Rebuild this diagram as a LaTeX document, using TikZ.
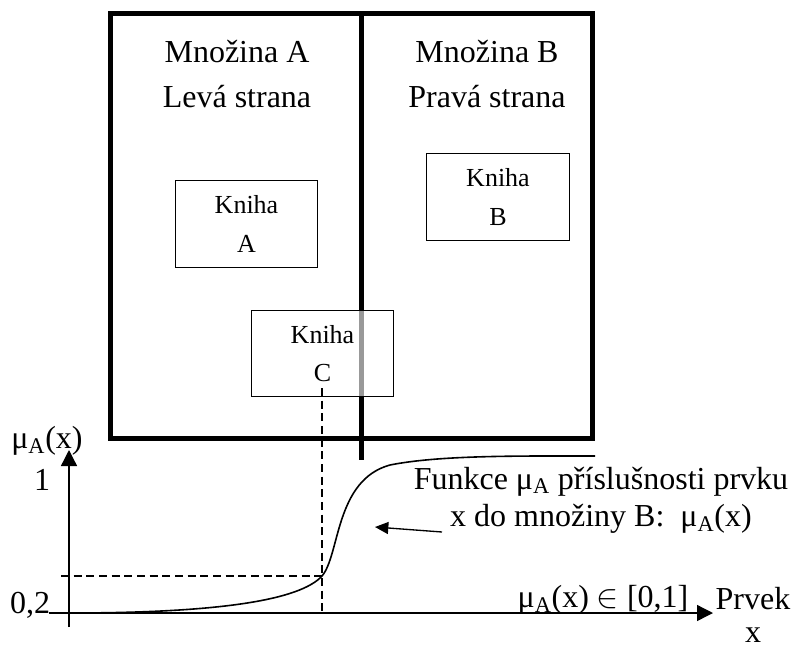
\documentclass[tikz,border=0pt]{standalone}
\usepackage{fontspec}
\setmainfont{Liberation Serif}
\usetikzlibrary{positioning,arrows.meta}

\tikzset{
	ramec/.style={line width=3.75pt},
	kniha/.style={draw,line width=0.9pt,minimum width=107pt,minimum height=65pt,inner sep=0pt,align=center,font=\fontsize{19.5}{29}\selectfont},
	nadpis/.style={align=center,font=\fontsize{24}{34}\selectfont},
	popis/.style={align=center,font=\fontsize{24}{28}\selectfont},
	osa/.style={line width=1pt,-{Triangle[length=12pt,width=12pt]}},
	sipka/.style={line width=1pt,-{Triangle[length=10pt,width=9pt]}},
	carky/.style={line width=0.9pt,dash pattern=on 6pt off 3.5pt}
}

\begin{document}
\begin{tikzpicture}[x=0.75pt,y=-0.75pt]
		\useasboundingbox (0,0) rectangle (795,650);
		\draw[ramec] (110,13) rectangle (592,438);
		\draw[ramec] (361,13) -- (361,460);
		\node[nadpis] (mnozA) at (237,74) {Množina A\\Levá strana};
		\node[nadpis] (mnozB) at (487,74) {Množina B\\Pravá strana};
		\node[kniha] (knihaA) at (246.5,224) {Kniha\\A};
		\node[kniha] (knihaB) at (498,197) {Kniha\\B};
		\node[kniha,fill=white,fill opacity=0.6,text opacity=1] (knihaC) at (322.5,353.5) {Kniha\\C};
		\coordinate (O) at (69,613);
		\coordinate (yz) at (69,627);
		\coordinate (yk) at (69,450);
		\coordinate (xz) at (49,613);
		\coordinate (xk) at (713,613);
		\coordinate (bod) at (322,576);
		\coordinate (bodY) at (61,576);
		\coordinate (bodC) at (322,388);
		\coordinate (bodX) at (322,613);
		\draw[osa] (yz) -- (yk);
		\draw[osa] (xz) -- (xk);
		\draw[carky] (bodY) -- (bod);
		\draw[carky] (bodC) -- (bodX);
		\draw[line width=1.2pt] (O) .. controls (220,613) and (300,600) .. (bod) .. controls (340,555) and (335,480) .. (390,465) .. controls (440,455) and (520,456) .. (595,456);
		\node[popis] (mu) at (47,441) {μ\textsubscript{A}(x)};
		\node[popis] (jedna) at (42,480) {1};
		\node[popis] (nula) at (30,605) {0,2};
		\node[popis] (funkce) at (601,500) {Funkce μ\textsubscript{A} příslušnosti prvku\\x do množiny B:~~μ\textsubscript{A}(x)};
		\node[popis] (obor) at (603,600) {μ\textsubscript{A}(x) $\in$ [0,1]};
		\node[popis,align=center,font=\fontsize{24}{25}\selectfont] (prvek) at (753,615) {Prvek\\x};
		\coordinate (sipkaZ) at (442,532);
		\coordinate (sipkaK) at (375,527);
		\draw[sipka] (sipkaZ) -- (sipkaK);
	\end{tikzpicture}
\end{document}
